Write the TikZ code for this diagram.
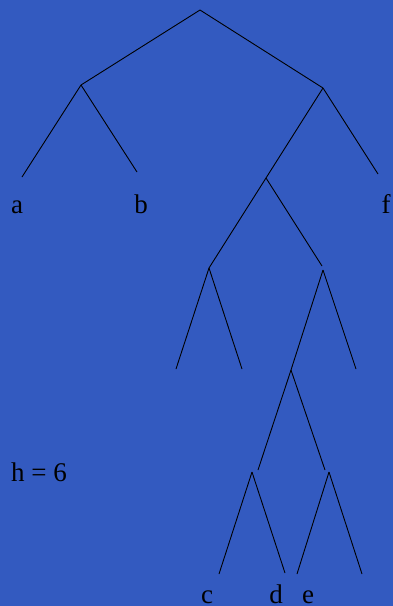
\documentclass[tikz,border=0pt]{standalone}
\usepackage{fontspec}
\setmainfont{Liberation Serif}
\definecolor{bgblue}{RGB}{51,90,192}
\begin{document}
\begin{tikzpicture}[x=1pt,y=-1pt,
  edge/.style={draw=black,line width=0.9pt},
  lbl/.style={inner sep=0pt,anchor=base,font=\fontsize{27}{30}\selectfont}]
\fill[bgblue] (0,0) rectangle (393,606);
\useasboundingbox (0,0) rectangle (393,606);
% apexes
\coordinate (r) at (200,10);
\coordinate (n1) at (81,85);
\coordinate (n2) at (323,88);
\coordinate (n3) at (266,178);
\coordinate (n4) at (209,268);
\coordinate (n5) at (323,270);
\coordinate (n6) at (291,370);
\coordinate (n7) at (252,472);
\coordinate (n8) at (329,472);
% free ends
\coordinate (la) at (22,177);
\coordinate (lb) at (137,172);
\coordinate (lf) at (378,174);
\coordinate (e5) at (322,266);
\coordinate (l1) at (176,369);
\coordinate (l2) at (242,369);
\coordinate (l3) at (356,369);
\coordinate (e7) at (258,470);
\coordinate (e8) at (325,470);
\coordinate (lc) at (219,574);
\coordinate (ld) at (285,573);
\coordinate (le) at (297,574);
\coordinate (lg) at (362,574);
% edges
\draw[edge] (r) -- (n1);
\draw[edge] (r) -- (n2);
\draw[edge] (n1) -- (la);
\draw[edge] (n1) -- (lb);
\draw[edge] (n2) -- (n3);
\draw[edge] (n2) -- (lf);
\draw[edge] (n3) -- (n4);
\draw[edge] (n3) -- (e5);
\draw[edge] (n4) -- (l1);
\draw[edge] (n4) -- (l2);
\draw[edge] (n5) -- (n6);
\draw[edge] (n5) -- (l3);
\draw[edge] (n6) -- (e7);
\draw[edge] (n6) -- (e8);
\draw[edge] (n7) -- (lc);
\draw[edge] (n7) -- (ld);
\draw[edge] (n8) -- (le);
\draw[edge] (n8) -- (lg);
% labels
\node[lbl] (ta) at (17,213) {a};
\node[lbl] (tb) at (141,213) {b};
\node[lbl] (tf) at (386,213) {f};
\node[lbl,anchor=base west] (th) at (11,481) {h = 6};
\node[lbl] (tc) at (207,603) {c};
\node[lbl] (td) at (276,603) {d};
\node[lbl] (te) at (308,603) {e};
\end{tikzpicture}
\end{document}
